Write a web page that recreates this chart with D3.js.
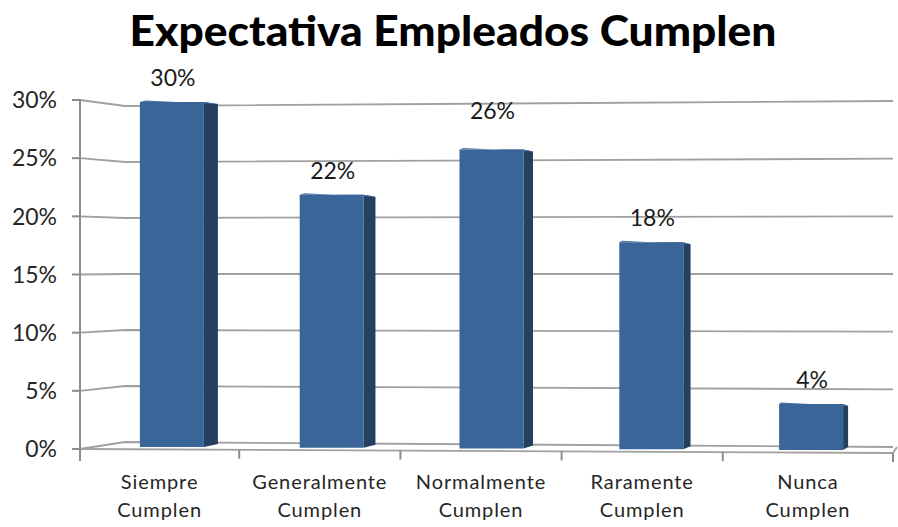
<!DOCTYPE html>
<html>
<head>
<meta charset="utf-8">
<script src="https://cdn.jsdelivr.net/npm/d3@7"></script>
<style>
  body { margin: 0; background: #fff; }
  svg text { font-family: Lato, "Open Sans", sans-serif; }
</style>
</head>
<body>
<svg id="chart" width="898" height="527"></svg>
<script>
var title = "Expectativa Empleados Cumplen";
var categories = [["Siempre", "Cumplen"], ["Generalmente", "Cumplen"], ["Normalmente", "Cumplen"], ["Raramente", "Cumplen"], ["Nunca", "Cumplen"]];
var values = [30, 22, 26, 18, 4];
var ticks = [0, 5, 10, 15, 20, 25, 30];
// Excel moved the 26% label up a bit
var labelNudge = [0, 0, -15, 0, 0];

var svg = d3.select("#chart");

// front axis (left edge of the floor) and back wall, slight perspective
var yFront = d3.scaleLinear().domain([0, 30]).range([449, 100]);
var yBackL = d3.scaleLinear().domain([0, 30]).range([442, 106]);
var yBackR = d3.scaleLinear().domain([0, 30]).range([447, 101]);
var xFront = d3.scaleBand().domain(d3.range(5)).range([78, 884]);
var xBar = d3.scaleBand().domain(d3.range(5)).range([92, 891]);

var wallL = 125, wallR = 893;

// gridlines: side wall piece + back wall piece
var grid = svg.append("g").attr("class", "grid");
ticks.forEach(function(t) {
  grid.append("polyline")
    .attr("points", [[80, yFront(t)], [wallL, yBackL(t)], [wallR, yBackR(t)]].join(" "))
    .attr("fill", "none")
    .attr("stroke", "#a0a0a0")
    .attr("stroke-width", 1.8);
});

// floor front edge + right edge
svg.append("polyline")
  .attr("points", [[80, yFront(0)], [wallR, 453], [wallR + 4, yBackR(0)]].join(" "))
  .attr("fill", "none").attr("stroke", "#a0a0a0").attr("stroke-width", 1.8);

// y axis line and ticks
svg.append("line")
  .attr("x1", 80).attr("x2", 80)
  .attr("y1", yFront(30)).attr("y2", yFront(0) + 12)
  .attr("stroke", "#8c8c8c").attr("stroke-width", 2);

svg.selectAll(".ytick").data(ticks).enter().append("line")
  .attr("x1", 72).attr("x2", 80)
  .attr("y1", function(d) { return yFront(d); })
  .attr("y2", function(d) { return yFront(d); })
  .attr("stroke", "#8c8c8c").attr("stroke-width", 2);

svg.selectAll(".ylab").data(ticks).enter().append("text")
  .attr("x", 57)
  .attr("y", function(d) { return yFront(d); })
  .attr("dy", "0.36em")
  .attr("text-anchor", "end")
  .attr("font-size", 23)
  .attr("fill", "#262626")
  .text(function(d) { return d + "%"; });

// category ticks along the floor front edge (last one sits on the floor corner)
var floorY = d3.scaleLinear().domain([80, wallR]).range([yFront(0), 453]);
var catEdges = d3.range(6).map(function(i) { return i < 5 ? xFront(i) : wallR; });
catEdges[0] = 80;
svg.selectAll(".xtick").data(catEdges.slice(1)).enter().append("line")
  .attr("x1", function(d) { return d; }).attr("x2", function(d) { return d; })
  .attr("y1", function(d) { return floorY(d); })
  .attr("y2", function(d) { return floorY(d) + 9; })
  .attr("stroke", "#8c8c8c").attr("stroke-width", 2);

function catMid(i) { return (catEdges[i] + catEdges[i + 1]) / 2; }

var catLab = svg.selectAll(".xlab").data(categories).enter().append("text")
  .attr("text-anchor", "middle")
  .attr("font-size", 20)
  .attr("letter-spacing", 0.9)
  .attr("fill", "#262626");
catLab.append("tspan")
  .attr("x", function(d, i) { return catMid(i); })
  .attr("y", 489)
  .text(function(d) { return d[0]; });
catLab.append("tspan")
  .attr("x", function(d, i) { return catMid(i); })
  .attr("y", 517)
  .text(function(d) { return d[1]; });

// bars: front face, side face, thin top face
var barW = 64;
var cx0 = xBar(0) + xBar.bandwidth() / 2, cx4 = xBar(4) + xBar.bandwidth() / 2;
var baseY = d3.scaleLinear().domain([cx0, cx4]).range([447, 450]);
var depth = d3.scaleLinear().domain([cx0, cx4]).range([14, 5]);
var hScale = d3.scaleLinear().domain([0, 30]).range([0, 345]);

var bars = svg.selectAll(".bar").data(values).enter().append("g").attr("class", "bar");
bars.each(function(v, i) {
  var g = d3.select(this);
  var cx = xBar(i) + xBar.bandwidth() / 2;
  var x0 = cx - barW / 2, x1 = cx + barW / 2;
  var yb = baseY(cx), yt = yb - hScale(v);
  var d = depth(cx);
  g.append("polygon")
    .attr("points", [[x1, yt], [x1 + d, yt + 2], [x1 + d, yb - 3], [x1, yb]].join(" "))
    .attr("fill", "#243f60");
  g.append("polygon")
    .attr("points", [[x0, yt], [x0 + d * 0.4, yt - 1.5], [x1 + d, yt + 2], [x1, yt]].join(" "))
    .attr("fill", "#4b76a8");
  g.append("rect")
    .attr("x", x0).attr("y", yt)
    .attr("width", barW).attr("height", yb - yt)
    .attr("fill", "#3a6598");
  g.append("text")
    .attr("x", cx + 1)
    .attr("y", yt - 16 + labelNudge[i])
    .attr("text-anchor", "middle")
    .attr("font-size", 23)
    .attr("fill", "#1a1a1a")
    .text(v + "%");
});

// title
svg.append("text")
  .attr("x", 453).attr("y", 46)
  .attr("text-anchor", "middle")
  .attr("font-size", 42)
  .attr("font-weight", 900)
  .attr("fill", "#000")
  .attr("textLength", 647)
  .attr("lengthAdjust", "spacingAndGlyphs")
  .text(title);
</script>
</body>
</html>
